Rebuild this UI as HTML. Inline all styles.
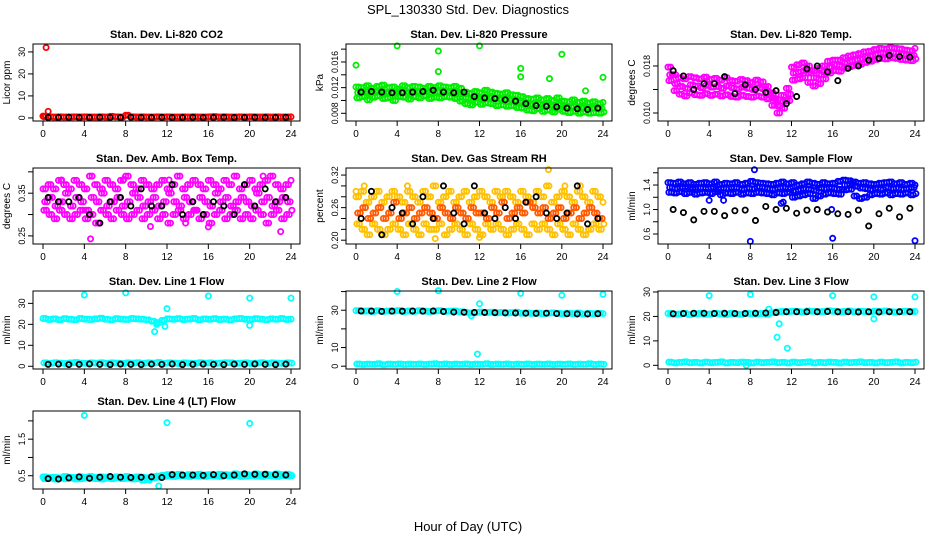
<!DOCTYPE html>
<html><head><meta charset="utf-8"><style>
body{margin:0;background:#fff;width:936px;height:540px;overflow:hidden}
svg{display:block;font-family:"Liberation Sans",sans-serif}
</style></head><body>
<svg id="chart" width="936" height="540" viewBox="0 0 936 540">
<text x="468" y="14" text-anchor="middle" font-size="13">SPL_130330  Std. Dev. Diagnostics</text>
<text x="468" y="531" text-anchor="middle" font-size="13">Hour of Day (UTC)</text>
</svg>
<script>
// ---- data (hour of day for color arrays = index*0.5; black arrays = 0.5 + index) ----
const xTicks=[0,4,8,12,16,20,24];
const co2Color=[0.8,0.5,0.4,0.5,0.4,0.4,0.5,0.4,0.5,0.4,0.4,0.5,0.4,0.7,0.5,0.4,1.2,0.5,0.4,0.5,0.4,0.4,0.5,0.4,0.5,0.4,0.4,0.5,0.4,0.5,0.4,0.4,0.5,0.6,0.4,0.5,0.4,0.4,0.5,0.4,0.5,0.4,0.4,0.5,0.4,0.5,0.4,0.4,0.5];
const co2Black=[0.2,0.2,0.3,0.2,0.2,0.3,0.2,0.2,0.3,0.2,0.2,0.3,0.2,0.2,0.3,0.2,0.2,0.3,0.2,0.2,0.3,0.2,0.2,0.3];
const co2OutX=[0.3,0.5,0.1];
const co2OutY=[32,3,0.5];

const presMid=[0.0112,0.0114,0.0111,0.0113,0.0115,0.0112,0.0113,0.0111,0.0114,0.0113,0.0112,0.0114,0.0113,0.0115,0.0112,0.0114,0.0113,0.0115,0.0114,0.0113,0.0110,0.0104,0.0102,0.0106,0.0103,0.0105,0.0104,0.0103,0.0101,0.0102,0.0100,0.0099,0.0097,0.0094,0.0093,0.0095,0.0092,0.0093,0.0091,0.0094,0.0090,0.0089,0.0091,0.0088,0.0089,0.0087,0.0088,0.0087,0.0089];
const presHi=[0.0121,0.0120,0.0123,0.0119,0.0122,0.0124,0.0120,0.0121,0.0118,0.0123,0.0120,0.0122,0.0121,0.0119,0.0122,0.0120,0.0123,0.0121,0.0120,0.0122,0.0119,0.0113,0.0111,0.0114,0.0112,0.0116,0.0113,0.0111,0.0110,0.0112,0.0109,0.0108,0.0106,0.0103,0.0102,0.0104,0.0101,0.0103,0.0100,0.0104,0.0099,0.0098,0.0101,0.0097,0.0099,0.0096,0.0098,0.0095,0.0097];
const presLo=[0.0104,0.0106,0.0101,0.0105,0.0107,0.0103,0.0104,0.0100,0.0106,0.0105,0.0102,0.0106,0.0104,0.0107,0.0103,0.0105,0.0104,0.0106,0.0105,0.0103,0.0099,0.0095,0.0093,0.0097,0.0094,0.0096,0.0095,0.0092,0.0093,0.0091,0.0092,0.0089,0.0088,0.0085,0.0084,0.0087,0.0083,0.0085,0.0082,0.0086,0.0083,0.0081,0.0083,0.0080,0.0082,0.0080,0.0081,0.0080,0.0082];
const presBlack=[0.0113,0.0114,0.0113,0.0112,0.0112,0.0113,0.0114,0.0116,0.0113,0.0112,0.0113,0.0106,0.0104,0.0103,0.0101,0.0099,0.0095,0.0092,0.0091,0.0090,0.0088,0.0087,0.0086,0.0088];
const presOutX=[0,4,8,8,12,16,16,18.8,20,22.3,24];
const presOutY=[0.0155,0.0185,0.0177,0.0145,0.0185,0.0150,0.0137,0.0134,0.0172,0.0115,0.0136];

const tempMid=[0.0165,0.0150,0.0145,0.0142,0.0148,0.0146,0.0143,0.0147,0.0144,0.0145,0.0142,0.0146,0.0143,0.0141,0.0144,0.0142,0.0140,0.0143,0.0141,0.0135,0.0125,0.0112,0.0120,0.0132,0.0168,0.0170,0.0172,0.0168,0.0160,0.0165,0.0170,0.0178,0.0182,0.0180,0.0185,0.0188,0.0190,0.0192,0.0195,0.0197,0.0200,0.0202,0.0201,0.0203,0.0202,0.0200,0.0199,0.0198,0.0200];
const tempHi=[0.0178,0.0165,0.0160,0.0158,0.0162,0.0160,0.0158,0.0161,0.0157,0.0159,0.0156,0.0160,0.0155,0.0154,0.0157,0.0155,0.0152,0.0156,0.0153,0.0145,0.0134,0.0123,0.0130,0.0142,0.0178,0.0182,0.0185,0.0180,0.0172,0.0176,0.0180,0.0188,0.0190,0.0190,0.0194,0.0197,0.0199,0.0201,0.0204,0.0205,0.0208,0.0210,0.0209,0.0211,0.0210,0.0209,0.0207,0.0206,0.0210];
const tempLo=[0.0155,0.0138,0.0132,0.0129,0.0134,0.0131,0.0130,0.0133,0.0130,0.0132,0.0129,0.0131,0.0128,0.0127,0.0130,0.0128,0.0127,0.0129,0.0127,0.0124,0.0113,0.0100,0.0108,0.0121,0.0156,0.0158,0.0160,0.0152,0.0146,0.0150,0.0158,0.0168,0.0172,0.0171,0.0176,0.0179,0.0181,0.0183,0.0186,0.0188,0.0191,0.0193,0.0192,0.0194,0.0193,0.0191,0.0190,0.0189,0.0192];
const tempBlack=[0.0172,0.0163,0.0140,0.0150,0.0150,0.0162,0.0133,0.0148,0.0140,0.0135,0.0138,0.0116,0.0128,0.0175,0.0180,0.0170,0.0155,0.0176,0.0180,0.0190,0.0193,0.0198,0.0196,0.0195];

const ambMid=[0.33,0.34,0.32,0.33,0.35,0.32,0.34,0.33,0.31,0.34,0.33,0.35,0.32,0.33,0.34,0.32,0.33,0.35,0.34,0.32,0.33,0.34,0.32,0.33,0.35,0.33,0.32,0.34,0.33,0.31,0.34,0.33,0.32,0.35,0.33,0.34,0.32,0.33,0.34,0.33,0.32,0.35,0.33,0.34,0.32,0.33,0.34,0.33,0.32];
const ambHi=[0.36,0.37,0.36,0.38,0.37,0.36,0.38,0.37,0.36,0.39,0.37,0.36,0.38,0.37,0.36,0.38,0.39,0.37,0.36,0.38,0.37,0.36,0.37,0.38,0.36,0.37,0.39,0.36,0.37,0.38,0.37,0.36,0.38,0.37,0.36,0.38,0.37,0.39,0.36,0.37,0.38,0.36,0.37,0.38,0.39,0.37,0.36,0.37,0.38];
const ambLo=[0.31,0.30,0.29,0.31,0.30,0.29,0.30,0.31,0.29,0.30,0.28,0.31,0.30,0.29,0.31,0.30,0.29,0.30,0.31,0.29,0.30,0.31,0.29,0.30,0.28,0.30,0.31,0.29,0.30,0.31,0.29,0.30,0.28,0.30,0.31,0.29,0.30,0.31,0.29,0.30,0.29,0.31,0.30,0.28,0.30,0.31,0.29,0.30,0.31];
const ambBlack=[0.34,0.33,0.33,0.34,0.30,0.28,0.33,0.34,0.32,0.36,0.32,0.32,0.37,0.30,0.33,0.30,0.33,0.32,0.30,0.37,0.32,0.36,0.33,0.34];
const ambOutX=[4.6,7.8,12.2,13.8,16,21.3,23,1.8,10.4];
const ambOutY=[0.243,0.382,0.381,0.28,0.271,0.39,0.26,0.381,0.272];

const rhMid=[0.25,0.26,0.24,0.25,0.26,0.24,0.25,0.27,0.24,0.25,0.26,0.24,0.25,0.26,0.25,0.24,0.26,0.25,0.24,0.26,0.25,0.24,0.26,0.25,0.25,0.24,0.26,0.25,0.27,0.24,0.25,0.26,0.25,0.27,0.26,0.25,0.26,0.24,0.25,0.26,0.24,0.25,0.26,0.24,0.25,0.26,0.25,0.24,0.26];
const rhHi=[0.28,0.29,0.27,0.28,0.29,0.27,0.28,0.29,0.28,0.27,0.29,0.28,0.27,0.29,0.28,0.30,0.27,0.28,0.29,0.27,0.28,0.29,0.27,0.28,0.29,0.28,0.27,0.29,0.28,0.29,0.28,0.27,0.29,0.28,0.27,0.29,0.28,0.30,0.27,0.28,0.29,0.28,0.27,0.29,0.28,0.27,0.29,0.28,0.27];
const rhLo=[0.23,0.22,0.21,0.23,0.22,0.21,0.22,0.23,0.22,0.21,0.23,0.22,0.21,0.23,0.22,0.22,0.23,0.21,0.22,0.23,0.22,0.21,0.23,0.22,0.21,0.23,0.22,0.23,0.22,0.21,0.22,0.23,0.22,0.21,0.23,0.22,0.23,0.22,0.21,0.23,0.22,0.21,0.23,0.22,0.21,0.22,0.23,0.22,0.23];
const rhBlack=[0.24,0.29,0.21,0.26,0.25,0.23,0.28,0.24,0.30,0.25,0.23,0.30,0.25,0.24,0.26,0.24,0.27,0.28,0.25,0.24,0.25,0.30,0.23,0.24];
const rhOutX=[0.8,5,12,7.7,18.7,20.3,21.8,0];
const rhOutY=[0.30,0.30,0.205,0.203,0.33,0.30,0.30,0.29];

const flowMid=[1.36,1.34,1.35,1.37,1.33,1.36,1.35,1.34,1.36,1.33,1.35,1.34,1.36,1.35,1.33,1.35,1.34,1.37,1.36,1.34,1.33,1.35,1.36,1.34,1.30,1.32,1.34,1.33,1.31,1.35,1.34,1.36,1.34,1.33,1.40,1.42,1.38,1.35,1.34,1.32,1.35,1.33,1.36,1.34,1.35,1.33,1.34,1.36,1.32];
const flowHi=[1.44,1.43,1.45,1.42,1.44,1.41,1.43,1.44,1.42,1.45,1.41,1.43,1.42,1.44,1.41,1.43,1.46,1.44,1.43,1.42,1.41,1.43,1.45,1.42,1.44,1.40,1.42,1.45,1.43,1.41,1.44,1.42,1.43,1.46,1.48,1.47,1.45,1.43,1.44,1.42,1.41,1.43,1.44,1.45,1.42,1.44,1.41,1.43,1.40];
const flowLo=[1.28,1.27,1.29,1.26,1.28,1.25,1.27,1.28,1.26,1.29,1.24,1.27,1.26,1.28,1.25,1.27,1.26,1.28,1.27,1.26,1.24,1.27,1.26,1.28,1.20,1.22,1.24,1.26,1.18,1.22,1.25,1.27,1.26,1.25,1.32,1.33,1.22,1.18,1.20,1.24,1.26,1.25,1.27,1.24,1.26,1.25,1.27,1.24,1.26];
const flowBlack=[1.0,0.95,0.83,0.97,0.97,0.90,0.98,0.99,0.82,1.05,1.00,1.02,0.94,0.99,1.00,0.96,0.93,0.92,0.99,0.73,0.93,1.02,0.88,1.02];
const flowOutX=[8,8.4,16,24,11,11.2,4,5.4,15.9];
const flowOutY=[0.48,1.65,0.53,0.49,1.1,1.12,1.15,1.15,1.0];

const l1Hi=[22.8,22.3,22.6,22.1,22.7,22.4,22.2,22.8,22.5,22.3,22.6,22.9,22.4,22.2,22.7,22.5,22.3,22.8,22.6,22.4,22.1,21.5,20.8,21.9,22.6,22.4,22.7,22.3,22.5,22.8,22.2,22.6,22.4,22.7,22.3,22.5,22.1,22.6,22.8,22.4,22.3,22.7,22.5,22.2,22.6,22.4,22.8,22.3,22.5];
const l1Lo=[1.6,1.4,1.7,1.5,1.3,1.6,1.8,1.5,1.4,1.6,1.5,1.7,1.4,1.6,1.5,1.3,1.6,1.5,1.7,1.4,1.6,1.5,1.8,1.4,1.6,1.5,1.3,1.6,1.5,1.4,1.7,1.5,1.6,1.4,1.5,1.7,1.6,1.4,1.5,1.6,1.3,1.5,1.7,1.4,1.6,1.5,1.4,1.6,1.5];
const l1Black=[0.9,1.0,0.8,0.9,1.1,0.9,0.8,1.0,0.9,0.8,1.0,0.9,1.1,0.8,0.9,1.0,0.9,0.8,1.0,0.9,1.1,0.9,0.8,1.0];
const l1OutX=[4,8,12,16,20,24,10.8,11,11.8,20];
const l1OutY=[34,35,27.5,33.5,32.5,32.5,16.5,20,19,19.5];

const l2Hi=[29.8,29.5,29.6,29.3,29.7,29.4,29.6,29.5,29.8,29.3,29.6,29.4,29.7,29.5,29.3,29.6,29.8,29.4,29.5,29.6,29.2,28.9,28.5,28.8,29.0,28.7,28.9,28.6,28.8,28.5,28.7,28.9,28.4,28.6,28.3,28.5,28.2,28.4,28.6,28.3,28.1,28.4,28.2,28.5,28.0,28.3,28.1,28.4,28.2];
const l2Lo=[1.2,0.9,1.1,1.0,1.3,0.8,1.1,1.0,1.2,0.9,1.1,1.0,1.2,0.9,1.1,1.3,1.0,1.2,0.9,1.1,1.0,1.2,0.9,1.1,1.0,1.3,0.9,1.1,1.0,1.2,0.9,1.1,1.0,1.2,0.9,1.1,1.0,1.2,0.9,1.1,1.0,1.2,0.9,1.1,1.0,1.3,0.9,1.1,1.0];
const l2Black=[29.6,29.6,29.4,29.5,29.5,29.6,29.5,29.6,29.3,29.0,28.9,28.8,28.8,28.7,28.6,28.5,28.4,28.3,28.4,28.2,28.1,28.0,28.0,28.1];
const l2OutX=[4,8,12,11.8,16,20,24,11.2];
const l2OutY=[40,40.5,33.5,6.5,39,38,38.5,27];

const l3Hi=[21.2,20.9,21.0,21.3,20.8,21.1,21.2,20.9,21.0,21.3,21.1,20.8,21.2,21.0,20.9,21.3,21.1,21.0,21.2,20.9,21.5,21.8,22.0,21.9,22.1,22.0,21.8,22.2,22.1,21.9,22.0,22.3,22.1,21.8,22.0,22.2,21.9,22.1,22.0,21.8,22.1,22.0,22.2,21.9,21.8,22.0,22.1,21.9,22.0];
const l3Lo=[1.3,1.0,1.2,1.4,1.1,1.2,1.0,1.3,1.1,1.2,1.4,1.0,1.2,1.1,1.3,1.2,1.0,1.3,1.1,1.2,1.4,1.1,1.2,1.0,1.3,1.1,1.2,1.4,1.0,1.2,1.1,1.3,1.2,1.0,1.3,1.1,1.2,1.4,1.1,1.2,1.0,1.3,1.1,1.2,1.4,1.0,1.2,1.1,1.3];
const l3Black=[21.1,21.2,21.3,21.3,21.2,21.3,21.2,21.2,21.3,21.4,21.6,21.9,21.9,21.9,21.9,22.0,21.9,21.9,21.8,21.9,21.8,21.9,21.9,21.9];
const l3OutX=[4,8,16,20,24,10.8,10.6,11.6,20,9.8,7.6];
const l3OutY=[28.5,29,28.5,28,28,17,11.5,7,19,23,0];

const l4Hi=[0.47,0.45,0.46,0.44,0.48,0.46,0.45,0.47,0.46,0.48,0.45,0.47,0.46,0.45,0.47,0.46,0.48,0.45,0.47,0.46,0.44,0.47,0.49,0.51,0.53,0.52,0.54,0.51,0.53,0.52,0.54,0.52,0.53,0.51,0.54,0.53,0.52,0.55,0.53,0.54,0.52,0.55,0.53,0.54,0.52,0.55,0.53,0.54,0.52];
const l4Lo=[0.42,0.43,0.41,0.44,0.42,0.43,0.41,0.42,0.44,0.43,0.42,0.41,0.43,0.42,0.44,0.42,0.43,0.41,0.42,0.38,0.41,0.44,0.46,0.48,0.49,0.48,0.50,0.49,0.48,0.50,0.49,0.48,0.50,0.49,0.48,0.50,0.49,0.50,0.48,0.49,0.50,0.49,0.48,0.50,0.49,0.48,0.50,0.49,0.50];
const l4Black=[0.42,0.41,0.44,0.47,0.43,0.46,0.48,0.46,0.45,0.46,0.47,0.45,0.53,0.52,0.52,0.51,0.53,0.50,0.52,0.55,0.54,0.54,0.53,0.52];
const l4OutX=[4,12,20,11.2,10.3];
const l4OutY=[2.15,1.95,1.93,0.22,0.38];

// ---- layout ----
const NS='http://www.w3.org/2000/svg';
const svg=document.getElementById('chart');
const cols=[[33,300],[346,612],[658,924]];
const rows=[[44,121],[168,244],[291,369],[411,489]];
function mk(tag,attrs,parent){const e=document.createElementNS(NS,tag);for(const k in attrs)e.setAttribute(k,attrs[k]);(parent||svg).appendChild(e);return e;}

const panels=[
 {slug:'co2',title:'Stan. Dev. Li-820 CO2',ylab:'Licor ppm',c:0,r:0,yMin:-1.4,yMax:33.6,ticks:[0,10,20,30],labels:[0,10,20,30],fmt:0,color:'#ff0000',layers:[co2Color],black:co2Black,ox:co2OutX,oy:co2OutY},
 {slug:'pressure',title:'Stan. Dev. Li-820 Pressure',ylab:'kPa',c:1,r:0,yMin:0.0068,yMax:0.0188,ticks:[0.008,0.010,0.012,0.014,0.016,0.018],labels:[0.008,0.012,0.016],fmt:3,color:'#00ee00',layers:[presHi,presLo,presMid],black:presBlack,ox:presOutX,oy:presOutY},
 {slug:'temp',title:'Stan. Dev. Li-820 Temp.',ylab:'degrees C',c:2,r:0,yMin:0.00864,yMax:0.02174,ticks:[0.010,0.014,0.018],labels:[0.010,0.018],fmt:3,color:'#ff00ff',layers:[tempHi,tempLo,tempMid],black:tempBlack,ox:[],oy:[]},
 {slug:'amb-box-temp',title:'Stan. Dev. Amb. Box Temp.',ylab:'degrees C',c:0,r:1,yMin:0.231,yMax:0.409,ticks:[0.25,0.30,0.35,0.40],labels:[0.25,0.35],fmt:2,color:'#ff00ff',layers:[ambHi,ambLo,ambMid],black:ambBlack,ox:ambOutX,oy:ambOutY},
 {slug:'gas-rh',title:'Stan. Dev. Gas Stream RH',ylab:'percent',c:1,r:1,yMin:0.193,yMax:0.333,ticks:[0.20,0.22,0.24,0.26,0.28,0.30,0.32],labels:[0.20,0.26,0.32],fmt:2,color:'#ffc000',layers:[rhHi,rhLo,rhMid],black:rhBlack,ox:rhOutX,oy:rhOutY},
 {slug:'sample-flow',title:'Stan. Dev. Sample Flow',ylab:'ml/min',c:2,r:1,yMin:0.437,yMax:1.678,ticks:[0.6,0.8,1.0,1.2,1.4,1.6],labels:[0.6,1.0,1.4],fmt:1,color:'#0000ff',layers:[flowHi,flowLo,flowMid],black:flowBlack,ox:flowOutX,oy:flowOutY},
 {slug:'line1-flow',title:'Stan. Dev. Line 1 Flow',ylab:'ml/min',c:0,r:2,yMin:-1.3,yMax:35.9,ticks:[0,10,20,30],labels:[0,10,20,30],fmt:0,color:'#00ffff',layers:[l1Hi,l1Lo],black:l1Black,ox:l1OutX,oy:l1OutY},
 {slug:'line2-flow',title:'Stan. Dev. Line 2 Flow',ylab:'ml/min',c:1,r:2,yMin:-1.5,yMax:40.3,ticks:[0,10,20,30,40],labels:[0,10,30],fmt:0,color:'#00ffff',layers:[l2Hi,l2Lo],black:l2Black,ox:l2OutX,oy:l2OutY},
 {slug:'line3-flow',title:'Stan. Dev. Line 3 Flow',ylab:'ml/min',c:2,r:2,yMin:-1.5,yMax:30.4,ticks:[0,10,20,30],labels:[0,10,20,30],fmt:0,color:'#00ffff',layers:[l3Hi,l3Lo],black:l3Black,ox:l3OutX,oy:l3OutY},
 {slug:'line4-flow',title:'Stan. Dev. Line 4 (LT) Flow',ylab:'ml/min',c:0,r:3,yMin:0.137,yMax:2.27,ticks:[0.5,1.0,1.5,2.0],labels:[0.5,1.5],fmt:1,color:'#00ffff',layers:[l4Hi,l4Lo],black:l4Black,ox:l4OutX,oy:l4OutY}
];

panels.forEach(p=>{
  const [L,R]=cols[p.c],[T,B]=rows[p.r];
  const x0=L+10,x1=R-9;
  const xs=t=>x0+(t/24)*(x1-x0);
  const ys=v=>B-(v-p.yMin)/(p.yMax-p.yMin)*(B-T);
  const g=mk('g',{});
  
  
  const ti=mk('text',{x:(L+R)/2,y:T-6,'text-anchor':'middle','font-size':'11','font-weight':'bold'},g);ti.textContent=p.title;
  
  
  // points
  const pts=mk('g',{fill:'none','stroke-width':'1.8'},g);
  
  
  const offs=[0,0.17,0.33];
  const reps=[0,0.25];
  p.layers.forEach((arr,li)=>{
    reps.forEach(rp=>{
      arr.forEach((v,i)=>{
        const t=i*0.5+offs[li%3]*0.5+rp;
        if(t>24.1)return;
        const c=mk('circle',{cx:xs(t),cy:ys(v),r:2.6,stroke:(p.slug==='gas-rh'&&li===2)?'#ff5a00':p.color},pts);
        
        
      });
    });
  });
  p.ox.forEach((x,i)=>{
    const c=mk('circle',{cx:xs(x),cy:ys(p.oy[i]),r:2.6,stroke:p.color},pts);
    
    
  });
  p.black.forEach((v,i)=>{
    const c=mk('circle',{cx:xs(0.5+i),cy:ys(v),r:2.6,stroke:'#000'},pts);
    
    
  });
  // box
  const bx=mk('rect',{x:L,y:T,width:R-L,height:B-T,fill:'none',stroke:'#000','stroke-width':'1'},g);
  
  
  // x axis
  const xa=mk('g',{'font-size':'10'},g);
  
  
  xTicks.forEach(t=>{
    mk('line',{x1:xs(t),x2:xs(t),y1:B,y2:B+5,stroke:'#000'},xa);
    const tx=mk('text',{x:xs(t),y:B+16,'text-anchor':'middle'},xa);tx.textContent=t;
    
    
  });
  // y axis
  const ya=mk('g',{'font-size':'9'},g);
  
  
  p.ticks.forEach(t=>{mk('line',{x1:L-5,x2:L,y1:ys(t),y2:ys(t),stroke:'#000'},ya);});
  p.labels.forEach(t=>{
    const yy=ys(t),xx=L-8;
    const tx=mk('text',{x:xx,y:yy,'text-anchor':'middle',transform:`rotate(-90 ${xx} ${yy})`},ya);
    tx.textContent=t.toFixed(p.fmt);
    if(p.fmt===3){tx.setAttribute('textLength','22');tx.setAttribute('lengthAdjust','spacingAndGlyphs');}
    
    
  });
  const yl=mk('text',{x:L-23,y:(T+B)/2,'text-anchor':'middle','font-size':'10',transform:`rotate(-90 ${L-23} ${(T+B)/2})`},g);
  yl.textContent=p.ylab;
  
  
});
</script>
</body></html>
